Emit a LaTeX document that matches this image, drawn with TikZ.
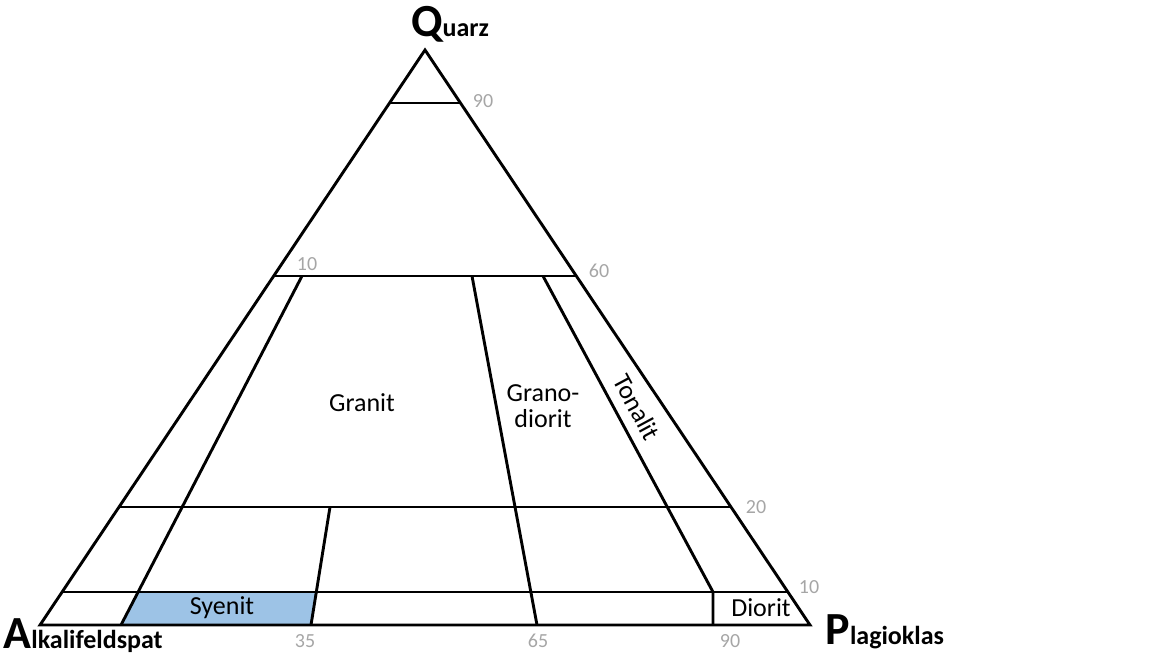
\documentclass[tikz,border=0pt]{standalone}
\usepackage{fontspec}
\setmainfont{Carlito}
\definecolor{syen}{RGB}{157,195,230}
\begin{document}
\begin{tikzpicture}[x=1pt,y=-1pt,
  ln/.style={line width=2.9pt,line join=miter},
  num/.style={text=black!35,font=\fontsize{20}{20}\selectfont},
  lab/.style={font=\fontsize{26}{26}\selectfont},
  corner/.style={font=\fontsize{26}{26}\selectfont\bfseries}]
\useasboundingbox (0,0) rectangle (1170,658);
\coordinate (Q) at (425,50); \coordinate (A) at (40,625); \coordinate (P) at (810,625);
\coordinate (l90) at (389.5,103); \coordinate (r90) at (460.5,103);
\coordinate (l60) at (274,276); \coordinate (r60) at (576,276);
\coordinate (l20) at (119,507); \coordinate (r20) at (731,507);
\coordinate (l10) at (62,592); \coordinate (r10) at (788,592);
\coordinate (a1) at (302,276); \coordinate (a2) at (121,625);
\coordinate (b1) at (472,276); \coordinate (b2) at (537,625);
\coordinate (c1) at (543,276); \coordinate (c2) at (713,592); \coordinate (c3) at (713,625);
\coordinate (d1) at (330,507); \coordinate (d2) at (311,625);
\coordinate (s1) at (137,592); \coordinate (s2) at (316,592);
\fill[syen] (s1) -- (s2) -- (d2) -- (a2) -- cycle;
\draw[ln] (Q) -- (P) -- (A) -- cycle;
\draw[ln] (l90) -- (r90) (l60) -- (r60) (l20) -- (r20) (l10) -- (r10);
\draw[ln] (a1) -- (a2) (b1) -- (b2) (c1) -- (c2) -- (c3) (d1) -- (d2);
\node[num] (n90) at (483,101) {90};
\node[num] (n60) at (599,271) {60};
\node[num] (n10a) at (307,264) {10};
\node[num] (n20) at (756,507) {20};
\node[num] (n10b) at (809,587) {10};
\node[num] (n35) at (305,641) {35};
\node[num] (n65) at (538,641) {65};
\node[num] (n90b) at (730,641) {90};
\node[corner,anchor=base] (tq) at (450,37) {\fontsize{46}{46}\selectfont Q\fontsize{26}{26}\selectfont uarz};
\node[corner,anchor=base west] (ta) at (0,648) {\fontsize{46}{46}\selectfont A\fontsize{26}{26}\selectfont lkalifeldspat};
\node[corner,anchor=base west] (tp) at (822,644) {\fontsize{46}{46}\selectfont P\fontsize{26}{26}\selectfont lagioklas};
\node[lab] (gr) at (362,403) {Granit};
\node[lab,align=center] (gd) at (543,406) {Grano-\\diorit};
\node[lab,rotate=-61.7] (to) at (637,407) {Tonalit};
\node[lab] (sy) at (222,608) {Syenit};
\node[lab] (di) at (761,608) {Diorit};
\end{tikzpicture}
\end{document}
